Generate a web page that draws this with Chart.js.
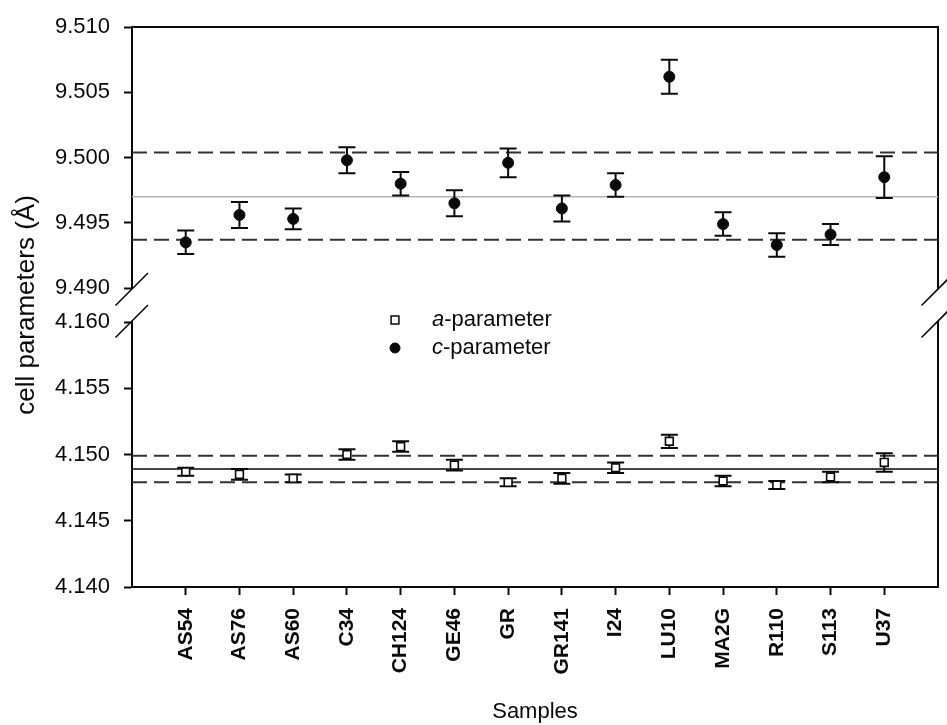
<!DOCTYPE html>
<html>
<head>
<meta charset="utf-8">
<script src="https://cdn.jsdelivr.net/npm/chart.js@4.4.1/dist/chart.umd.min.js"></script>
<style>
  html, body { margin: 0; padding: 0; background: #fff; }
  #wrap { position: relative; width: 947px; height: 725px; }
  #wrap canvas { position: absolute; left: 0; top: 0; }
</style>
</head>
<body>
<div id="wrap">
  <canvas id="upper" width="947" height="725"></canvas>
  <canvas id="lower" width="947" height="725"></canvas>
</div>
<script>
// samples along the x axis
const samples = ['AS54', 'AS76', 'AS60', 'C34', 'CH124', 'GE46', 'GR', 'GR141', 'I24', 'LU10', 'MA2G', 'R110', 'S113', 'U37'];

// c-parameter (upper panel) and its error
const cValues = [9.4935, 9.4956, 9.4953, 9.4998, 9.4980, 9.4965, 9.4996, 9.4961, 9.4979, 9.5062, 9.4949, 9.4933, 9.4941, 9.4985];
const cErrors = [0.0009, 0.0010, 0.0008, 0.0010, 0.0009, 0.0010, 0.0011, 0.0010, 0.0009, 0.0013, 0.0009, 0.0009, 0.0008, 0.0016];

// a-parameter (lower panel) and its error
const aValues = [4.1487, 4.1485, 4.1482, 4.1500, 4.1506, 4.1492, 4.1479, 4.1482, 4.1490, 4.1510, 4.1480, 4.1477, 4.1483, 4.1494];
const aErrors = [0.0003, 0.0004, 0.0003, 0.0004, 0.0004, 0.0004, 0.0003, 0.0004, 0.0004, 0.0005, 0.0004, 0.0003, 0.0004, 0.0007];

// reference lines: [upper dashed, mean, lower dashed]
const cLines = [9.5004, 9.4970, 9.4937];
const aLines = [4.1499, 4.1489, 4.1479];

// axis ranges / ticks
const cRange = [9.490, 9.510];
const aRange = [4.140, 4.160];
const tickStep = 0.005;

const FONT = "'Liberation Sans', Arial, sans-serif";
const INK = '#0a0a0a';
Chart.defaults.font.family = FONT;
Chart.defaults.color = INK;

const toPoints = (vals) => vals.map((v, i) => ({ x: i + 1, y: v }));

function refLine(v, dashed, color) {
  return {
    type: 'line',
    data: [{ x: 0, y: v }, { x: samples.length + 1, y: v }],
    borderColor: color,
    borderWidth: dashed ? 2 : 1.5,
    borderDash: dashed ? [15, 7] : [],
    pointRadius: 0,
    fill: false,
    order: 1
  };
}

// error bars are drawn right before the points so the markers sit on top
const errorBars = {
  id: 'errorBars',
  beforeDatasetDraw(chart, args) {
    const ds = chart.data.datasets[args.index];
    if (!ds.errors) return;
    const { ctx } = chart;
    const xs = chart.scales.x, ys = chart.scales.y;
    ctx.save();
    ctx.strokeStyle = INK;
    ctx.lineWidth = 2;
    ds.data.forEach((p, i) => {
      const px = xs.getPixelForValue(p.x);
      const top = ys.getPixelForValue(p.y + ds.errors[i]);
      const bot = ys.getPixelForValue(p.y - ds.errors[i]);
      ctx.beginPath();
      ctx.moveTo(px, top); ctx.lineTo(px, bot);
      ctx.moveTo(px - 8.5, top); ctx.lineTo(px + 8.5, top);
      ctx.moveTo(px - 8.5, bot); ctx.lineTo(px + 8.5, bot);
      ctx.stroke();
    });
    ctx.restore();
  }
};

// axis break marks on both sides
const breakMarks = {
  id: 'breakMarks',
  afterDraw(chart, args, opts) {
    const { ctx, chartArea } = chart;
    const y0 = opts.edge === 'bottom' ? chartArea.bottom + 1 : chartArea.top - 1;
    ctx.save();
    ctx.strokeStyle = INK;
    ctx.lineWidth = 1.6;
    [chartArea.left, chartArea.right].forEach((x0) => {
      ctx.beginPath();
      ctx.moveTo(x0 - 16.5, y0 + 16.5);
      ctx.lineTo(x0 + 16, y0 - 16);
      ctx.stroke();
    });
    ctx.restore();
  }
};

const yTitle = {
  id: 'yTitle',
  afterDraw(chart) {
    const { ctx } = chart;
    ctx.save();
    ctx.translate(27, 305);
    ctx.rotate(-Math.PI / 2);
    ctx.font = '26px ' + FONT;
    ctx.textAlign = 'center';
    ctx.textBaseline = 'middle';
    ctx.fillStyle = INK;
    ctx.fillText('cell parameters (Å)', 0, 0);
    ctx.restore();
  }
};

// legend with italic a / c
const legendBox = {
  id: 'legendBox',
  afterDraw(chart) {
    const { ctx } = chart;
    const rows = [
      { sym: 'a', style: { pointStyle: 'rect', radius: 5.5, borderWidth: 1.5 }, fill: '#fff', y: 320 },
      { sym: 'c', style: { pointStyle: 'circle', radius: 5, borderWidth: 1 }, fill: INK, y: 348 }
    ];
    ctx.save();
    rows.forEach((r) => {
      ctx.fillStyle = r.fill;
      ctx.strokeStyle = INK;
      ctx.lineWidth = r.style.borderWidth;
      Chart.helpers.drawPoint(ctx, r.style, 395, r.y);
      ctx.fillStyle = INK;
      ctx.textBaseline = 'middle';
      ctx.textAlign = 'left';
      ctx.font = 'italic 22px ' + FONT;
      ctx.fillText(r.sym, 432, r.y);
      const w = ctx.measureText(r.sym).width;
      ctx.font = '22px ' + FONT;
      ctx.fillText('-parameter', 432 + w, r.y);
    });
    ctx.restore();
  }
};

function yAxis(range) {
  return {
    min: range[0],
    max: range[1],
    ticks: { stepSize: tickStep, callback: (v) => v.toFixed(3), font: { size: 22 }, padding: 14, color: INK },
    grid: { drawOnChartArea: false, drawTicks: true, tickLength: 8, tickWidth: 2, tickColor: INK },
    border: { display: true, color: INK, width: 2 },
    afterFit(s) { s.width = 132; }
  };
}

const rightAxis = {
  position: 'right',
  min: 0,
  max: 1,
  ticks: { display: false },
  grid: { display: false, drawTicks: false },
  border: { display: true, color: INK, width: 2 },
  afterFit(s) { s.width = 0; }
};

new Chart(document.getElementById('upper'), {
  type: 'scatter',
  data: {
    datasets: [
      {
        label: 'c-parameter',
        data: toPoints(cValues),
        errors: cErrors,
        pointStyle: 'circle',
        pointRadius: 5.5,
        pointBackgroundColor: INK,
        pointBorderColor: INK,
        pointBorderWidth: 1,
        order: 0
      },
      refLine(cLines[0], true, '#333'),
      refLine(cLines[1], false, '#b4b4b4'),
      refLine(cLines[2], true, '#333')
    ]
  },
  options: {
    responsive: false,
    animation: false,
    layout: { padding: { top: 22, bottom: 437, left: 0, right: 9 } },
    plugins: { legend: { display: false }, tooltip: { enabled: false }, breakMarks: { edge: 'bottom' } },
    scales: {
      x: {
        type: 'linear',
        position: 'top',
        min: 0,
        max: samples.length + 1,
        ticks: { display: false },
        grid: { display: false, drawTicks: false },
        border: { display: true, color: INK, width: 2 },
        afterFit(s) { s.height = 0; }
      },
      y: yAxis(cRange),
      yR: rightAxis
    }
  },
  plugins: [errorBars, breakMarks, yTitle]
});

new Chart(document.getElementById('lower'), {
  type: 'scatter',
  data: {
    datasets: [
      {
        label: 'a-parameter',
        data: toPoints(aValues),
        errors: aErrors,
        pointStyle: 'rect',
        pointRadius: 5.5,
        pointBackgroundColor: '#fff',
        pointBorderColor: INK,
        pointBorderWidth: 1.6,
        order: 0
      },
      refLine(aLines[0], true, '#333'),
      refLine(aLines[1], false, INK),
      refLine(aLines[2], true, '#333')
    ]
  },
  options: {
    responsive: false,
    animation: false,
    layout: { padding: { top: 322, bottom: 0, left: 0, right: 9 } },
    plugins: { legend: { display: false }, tooltip: { enabled: false }, breakMarks: { edge: 'top' } },
    scales: {
      x: {
        type: 'linear',
        position: 'bottom',
        min: 0,
        max: samples.length + 1,
        afterBuildTicks(s) { s.ticks = s.ticks.filter((t) => t.value >= 1 && t.value <= samples.length); },
        ticks: {
          stepSize: 1,
          autoSkip: false,
          minRotation: 90,
          maxRotation: 90,
          padding: 13,
          color: INK,
          font: { size: 21, weight: 'bold' },
          callback: (v) => samples[v - 1] || ''
        },
        grid: { drawOnChartArea: false, drawTicks: true, tickLength: 8, tickWidth: 2, tickColor: INK },
        border: { display: true, color: INK, width: 2 },
        title: { display: true, text: 'Samples', font: { size: 22 }, color: INK, padding: { top: 0, bottom: 0 } },
        afterFit(s) { s.height = 138; }
      },
      y: yAxis(aRange),
      yR: rightAxis
    }
  },
  plugins: [errorBars, breakMarks, legendBox]
});
</script>
</body>
</html>
